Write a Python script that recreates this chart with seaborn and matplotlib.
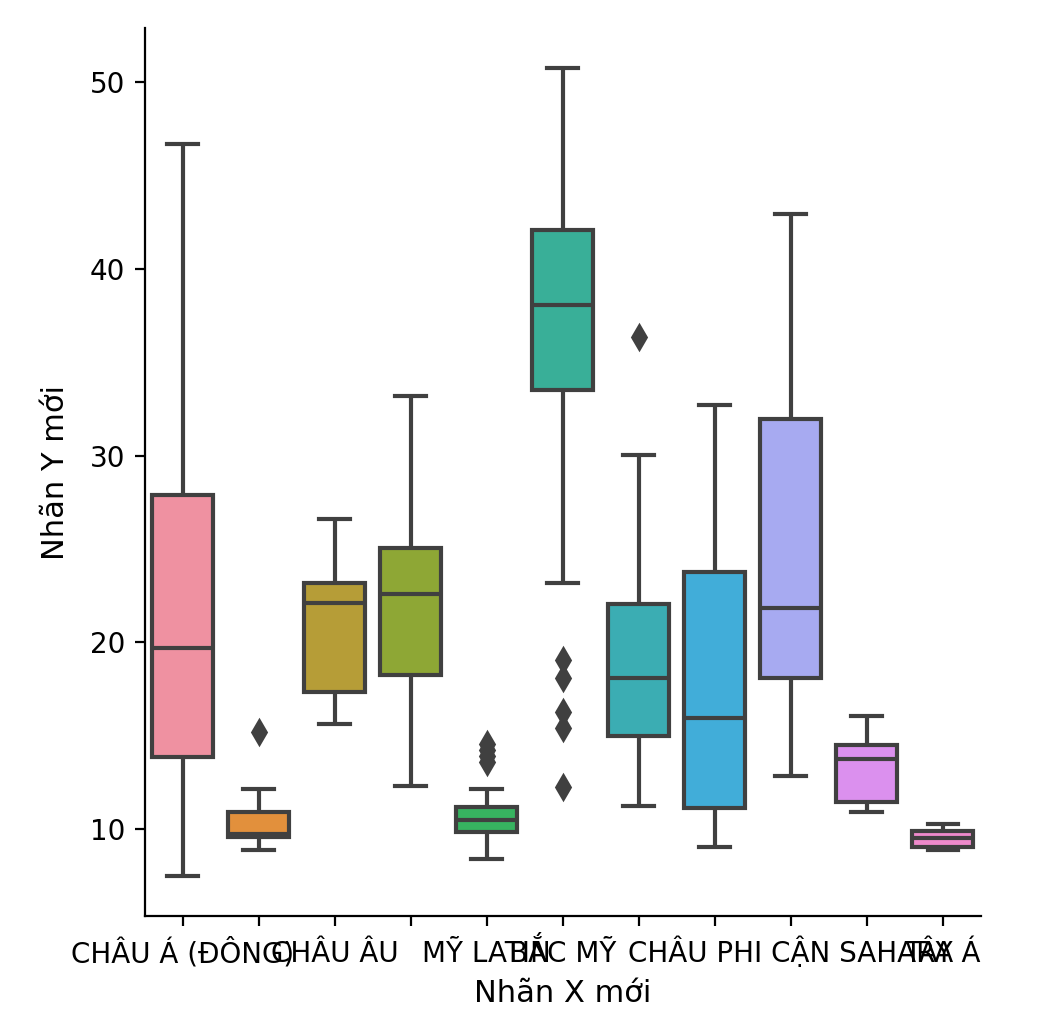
import numpy as np
import pandas as pd
import matplotlib.pyplot as plt
import seaborn as sns

# region keys (order of the boxes on the x axis)
regions = ["ASIA (EX. NEAR EAST)", "EASTERN EUROPE", "NORTHERN AFRICA", "OCEANIA",
           "WESTERN EUROPE", "SUB-SAHARAN AFRICA", "LATIN AMER. & CARIB",
           "C.W. OF IND. STATES", "NEAR EAST", "NORTHERN AMERICA", "BALTICS"]

# tick labels as they show on the chart (some ticks carry no label)
tick_labels = ["CHÂU Á (ĐÔNG)", "", "CHÂU ÂU", "", "MỸ LATIN", "BẮC MỸ", "", "",
               "CHÂU PHI CẬN SAHARA", "", "TÂY Á"]

# values per region
asia = [7.48, 13.87, 19.72, 27.88, 46.67]
eastern_europe = [8.87, 9.2, 9.55, 9.65, 9.75, 10.3, 10.9, 12.15, 15.21]
northern_africa = [15.64, 17.36, 22.13, 23.15, 26.59]
oceania = [12.31, 18.27, 22.56, 25.03, 33.2]
western_europe = [8.39, 9.1, 9.4, 9.6, 9.75, 9.84, 9.95, 10.1, 10.25, 10.4, 10.48,
                  10.6, 10.75, 10.9, 11.05, 11.18, 12.15, 13.6, 13.9, 14.25, 14.55]
sub_saharan = [12.25, 15.42, 16.28, 18.1, 19.07, 23.15, 33.52, 34.3, 35.1, 35.9,
               36.6, 37.4, 38.08, 38.7, 39.4, 40.1, 40.8, 41.5, 42.1, 43.0, 44.2,
               45.3, 46.8, 48.5, 50.75]
latin_america = [11.23, 13.0, 14.99, 16.5, 18.11, 20.0, 22.03, 30.03, 36.36]
cis = [9.03, 11.13, 15.96, 23.74, 32.71]
near_east = [12.85, 18.11, 21.81, 31.96, 42.91]
northern_america = [10.91, 11.45, 13.76, 14.51, 16.07]
baltics = [8.87, 9.03, 9.52, 9.89, 10.27]

groups = [asia, eastern_europe, northern_africa, oceania, western_europe, sub_saharan,
          latin_america, cis, near_east, northern_america, baltics]

# long-form table for seaborn
df = pd.DataFrame({
    "region": [r for r, vals in zip(regions, groups) for _ in vals],
    "value": [v for vals in groups for v in vals],
})

line_gray = "#404040"
palette = sns.husl_palette(len(regions), s=0.95, l=0.7)

fig, ax = plt.subplots(figsize=(5.2, 5.12), dpi=200)
sns.boxplot(data=df, x="region", y="value", hue="region", order=regions,
            hue_order=regions, palette=palette, saturation=0.8, legend=False,
            linewidth=1.5, linecolor=line_gray, fliersize=6,
            flierprops=dict(marker="d", markerfacecolor=line_gray,
                            markeredgecolor=line_gray),
            ax=ax)

ax.set_xticks(range(len(regions)))
ax.set_xticklabels(tick_labels)
# put all tick labels on one baseline, as in the original
for lab in ax.get_xticklabels():
    lab.set_verticalalignment("baseline")
ax.tick_params(axis="x", pad=13)

ax.set_xlabel("Nhãn X mới", fontsize=11)
ax.set_ylabel("Nhãn Y mới", fontsize=11, labelpad=7)
sns.despine()

fig.subplots_adjust(left=0.139, right=0.943, top=0.973, bottom=0.105)
fig.savefig("out.png", dpi=200)
